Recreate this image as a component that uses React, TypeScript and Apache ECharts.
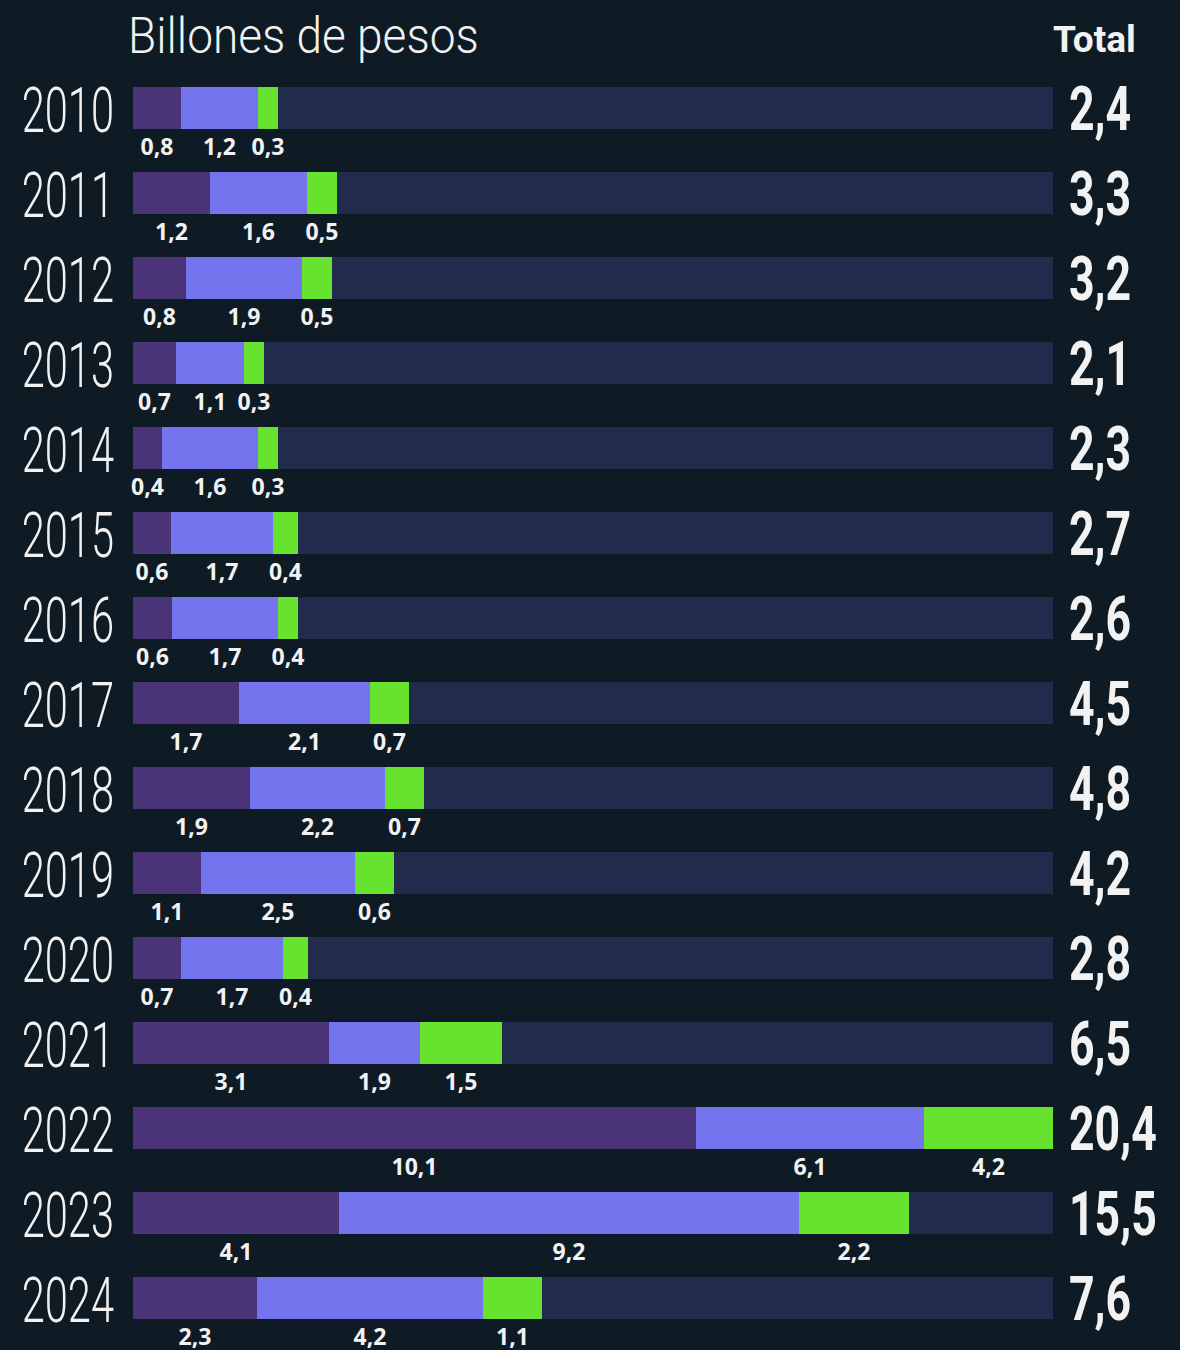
import React, { useEffect, useRef } from "react";
import * as echarts from "echarts";

// Categories
const years = ["2010", "2011", "2012", "2013", "2014", "2015", "2016", "2017", "2018", "2019", "2020", "2021", "2022", "2023", "2024"];

// Printed values (billones de pesos)
const labPurple = [0.8, 1.2, 0.8, 0.7, 0.4, 0.6, 0.6, 1.7, 1.9, 1.1, 0.7, 3.1, 10.1, 4.1, 2.3];
const labBlue = [1.2, 1.6, 1.9, 1.1, 1.6, 1.7, 1.7, 2.1, 2.2, 2.5, 1.7, 1.9, 6.1, 9.2, 4.2];
const labGreen = [0.3, 0.5, 0.5, 0.3, 0.3, 0.4, 0.4, 0.7, 0.7, 0.6, 0.4, 1.5, 4.2, 2.2, 1.1];
const totals = [2.4, 3.3, 3.2, 2.1, 2.3, 2.7, 2.6, 4.5, 4.8, 4.2, 2.8, 6.5, 20.4, 15.5, 7.6];

// Drawn segment lengths (track = 18.4)
const lenPurple = [0.96, 1.54, 1.06, 0.86, 0.58, 0.76, 0.78, 2.12, 2.34, 1.36, 0.96, 3.92, 11.26, 4.12, 2.48];
const lenBlue = [1.54, 1.94, 2.32, 1.36, 1.92, 2.04, 2.12, 2.62, 2.7, 3.08, 2.04, 1.82, 4.56, 9.2, 4.52];
const lenGreen = [0.4, 0.6, 0.6, 0.4, 0.4, 0.5, 0.4, 0.78, 0.78, 0.78, 0.5, 1.64, 2.58, 2.2, 1.18];
const trackMax = 18.4;

const BG = "#0e1b24";
const TRACK = "#222b4b";
const TEXT = "#f2f2f2";

const fmt = (v: number) => v.toFixed(1).replace(".", ",");

export default function App() {
  const ref = useRef<HTMLDivElement>(null);
  useEffect(() => {
    document.body.style.margin = "0";
    document.body.style.background = BG;
    const chart = echarts.init(ref.current!, null, { renderer: "svg" });

    const mkBar = (name: string, len: number[], lab: number[], color: string, first: boolean) => ({
      type: "bar",
      name,
      stack: "total",
      barWidth: 42,
      data: len,
      itemStyle: { color },
      showBackground: first,
      backgroundStyle: { color: TRACK },
      label: {
        show: true,
        position: "bottom",
        distance: 5,
        color: TEXT,
        fontFamily: "Open Sans",
        fontWeight: 700,
        fontSize: 23,
        formatter: (p: any) => fmt(lab[p.dataIndex]),
      },
    });

    chart.setOption({
      animation: false,
      backgroundColor: BG,
      grid: { left: 133, right: 127, top: 65.5, height: 1275 },
      xAxis: { type: "value", min: 0, max: trackMax, show: false },
      yAxis: { type: "category", data: years, inverse: true, show: false },
      graphic: [
        {
          type: "text",
          x: 128,
          y: 36,
          scaleX: 0.92,
          style: {
            text: "Billones de pesos",
            fontFamily: "Roboto",
            fontWeight: 300,
            fontSize: 50,
            fill: TEXT,
            align: "left",
            verticalAlign: "middle",
          },
        },
        {
          type: "text",
          x: 1053,
          y: 39,
          style: {
            text: "Total",
            fontFamily: "Roboto",
            fontWeight: "bold",
            fontSize: 37,
            fill: TEXT,
            align: "left",
            verticalAlign: "middle",
          },
        },
      ],
      series: [
        mkBar("A", lenPurple, labPurple, "#4a3477", true),
        mkBar("B", lenBlue, labBlue, "#7474ef", false),
        mkBar("C", lenGreen, labGreen, "#66e22f", false),
        {
          type: "custom",
          name: "years",
          clip: false,
          silent: true,
          data: years.map((_, i) => [0, i]),
          renderItem: (params: any, api: any) => {
            const i = api.value(1);
            const p = api.coord([0, i]);
            return {
              type: "text",
              x: p[0] - 19,
              y: p[1] + 2.5,
              scaleX: 0.66,
              style: {
                text: years[params.dataIndex],
                fontFamily: "Roboto",
                fontWeight: 300,
                fontSize: 63,
                fill: TEXT,
                align: "right",
                verticalAlign: "middle",
              },
            };
          },
        },
        {
          type: "custom",
          name: "totals",
          clip: false,
          silent: true,
          data: totals.map((_, i) => [trackMax, i]),
          renderItem: (params: any, api: any) => {
            const i = api.value(1);
            const p = api.coord([trackMax, i]);
            return {
              type: "text",
              x: p[0] + 16,
              y: p[1] + 1,
              scaleX: 0.72,
              style: {
                text: fmt(totals[params.dataIndex]),
                fontFamily: "Roboto",
                fontWeight: "bold",
                fontSize: 62,
                fill: TEXT,
                align: "left",
                verticalAlign: "middle",
              },
            };
          },
        },
      ],
    });
    return () => chart.dispose();
  }, []);
  return <div ref={ref} style={{ position: "absolute", left: 0, top: 0, width: 1180, height: 1350 }} />;
}
